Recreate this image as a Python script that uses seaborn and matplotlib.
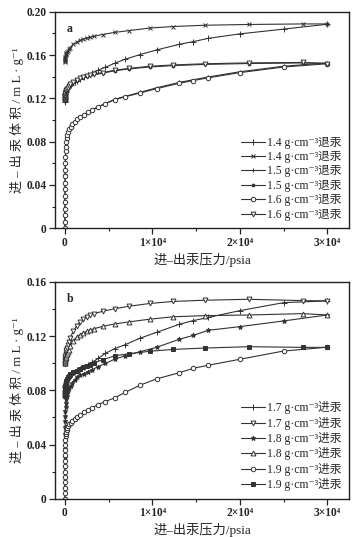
import matplotlib
matplotlib.use("Agg")
import matplotlib.pyplot as plt
import seaborn as sns
from matplotlib.ticker import MultipleLocator

# pressure grids (psia)
p_in = [0, 2, 4, 6, 9, 12, 16, 21, 27, 35, 45, 60, 80, 110, 150, 200, 270, 360, 480, 640,
        850, 1100, 1400, 1750, 2150, 2600, 3150, 3800, 4600, 5700, 6900, 8600, 10500, 13100,
        14700, 16400, 20000, 25000, 30000]
p_out = [0, 5, 12, 22, 35, 55, 80, 115, 160, 220, 300, 420, 570, 950, 1330, 1710, 2100, 2480,
         2860, 3350, 4300, 5700, 7300, 9700, 12400, 16000, 21000, 27200, 30000]
p_15a = [0, 10, 30, 80, 200, 480, 1100, 2150, 3800, 5700, 8600, 10500, 13100, 16400, 20000, 25000, 30000]
p_15b = [0, 22, 80, 220, 570, 1330, 2480, 4300, 5700, 7300, 9700, 12400, 16000, 21000, 27200, 30000]

# panel a
a_14_plus = [0.1167, 0.1175, 0.1183, 0.119, 0.1198, 0.1205, 0.1213, 0.122, 0.1228, 0.1236, 0.1244,
             0.1252, 0.126, 0.1268, 0.1277, 0.1286, 0.1295, 0.1305, 0.1315, 0.1326, 0.1338, 0.135,
             0.1363, 0.1378, 0.1395, 0.1415, 0.1437, 0.146, 0.1487, 0.1525, 0.1562, 0.1605, 0.1648,
             0.170, 0.1725, 0.1755, 0.1796, 0.184, 0.1885]
a_14_x = [0.1537, 0.1547, 0.1557, 0.1567, 0.1577, 0.1587, 0.1597, 0.1607, 0.1617, 0.1628, 0.1638,
          0.1652, 0.1668, 0.170, 0.172, 0.1735, 0.1748, 0.1757, 0.1765, 0.1774, 0.179, 0.181,
          0.1826, 0.185, 0.1864, 0.1876, 0.1883, 0.1888, 0.1888]
a_15_plus = [0.0, 0.024, 0.05, 0.071, 0.083, 0.0915, 0.0985, 0.1048, 0.1122, 0.1192, 0.1256,
             0.1298, 0.1348, 0.1398, 0.1446, 0.1497, 0.1528]
a_15_dot = [0.118, 0.1218, 0.1255, 0.1287, 0.1325, 0.1368, 0.1403, 0.1433, 0.1455, 0.1472, 0.149,
            0.1503, 0.1514, 0.1522, 0.1528, 0.1522]
a_16_o = [0.0, 0.006, 0.012, 0.018, 0.024, 0.030, 0.036, 0.042, 0.048, 0.054, 0.060, 0.066, 0.071,
          0.0755, 0.0795, 0.083, 0.086, 0.0888, 0.0915, 0.094, 0.0962, 0.0985, 0.1005, 0.1025,
          0.1048, 0.107, 0.1095, 0.1122, 0.115, 0.1188, 0.1215, 0.125, 0.129, 0.134, 0.1365,
          0.139, 0.1438, 0.149, 0.152]
a_16_v = [0.1185, 0.1198, 0.121, 0.1222, 0.1234, 0.1246, 0.1258, 0.127, 0.128, 0.129, 0.130,
          0.1315, 0.133, 0.1355, 0.1372, 0.1385, 0.1397, 0.1407, 0.1416, 0.1425, 0.1438, 0.146,
          0.1477, 0.1497, 0.1509, 0.152, 0.1528, 0.1532, 0.1522]

# panel b
b_17_plus = [0.075, 0.0758, 0.0766, 0.0774, 0.0782, 0.079, 0.0798, 0.0806, 0.0814, 0.0822, 0.083,
             0.0838, 0.0846, 0.0855, 0.0864, 0.0873, 0.0882, 0.0891, 0.09, 0.091, 0.0922, 0.0935,
             0.0948, 0.096, 0.0975, 0.099, 0.1008, 0.1035, 0.1072, 0.1108, 0.1137, 0.1185, 0.1228,
             0.1288, 0.1315, 0.1338, 0.1388, 0.1447, 0.146]
b_17_v = [0.0997, 0.1005, 0.1015, 0.1025, 0.1037, 0.105, 0.1065, 0.108, 0.1097, 0.1115, 0.1135,
          0.1158, 0.1185, 0.1235, 0.1275, 0.1303, 0.1325, 0.1342, 0.1355, 0.1366, 0.1383, 0.1402,
          0.142, 0.1441, 0.1456, 0.1465, 0.1472, 0.1462, 0.146]
b_18_dot = [0.0, 0.008, 0.016, 0.024, 0.031, 0.037, 0.043, 0.048, 0.053, 0.057, 0.061, 0.065, 0.068,
            0.071, 0.0735, 0.0757, 0.0778, 0.0797, 0.0815, 0.0832, 0.0855, 0.0878, 0.0895, 0.091,
            0.0922, 0.0937, 0.0953, 0.0975, 0.0998, 0.103, 0.1055, 0.1085, 0.1118, 0.1177, 0.1206,
            0.1243, 0.127, 0.1312, 0.1356]
b_18_tri = [0.100, 0.1005, 0.101, 0.1016, 0.1022, 0.103, 0.1038, 0.1047, 0.1057, 0.1068, 0.108,
            0.1098, 0.1125, 0.1165, 0.1192, 0.121, 0.1225, 0.1235, 0.1245, 0.1255, 0.1272, 0.129,
            0.1305, 0.1325, 0.1343, 0.1351, 0.1356, 0.1366, 0.1356]
b_19_o = [0.0, 0.004, 0.008, 0.012, 0.016, 0.02, 0.024, 0.028, 0.032, 0.036, 0.040, 0.0435, 0.046,
          0.048, 0.0495, 0.051, 0.0522, 0.0535, 0.0548, 0.056, 0.0575, 0.059, 0.0605, 0.062,
          0.0637, 0.0655, 0.0673, 0.0695, 0.0716, 0.0745, 0.0785, 0.0838, 0.0885, 0.093, 0.0963,
          0.0985, 0.1029, 0.109, 0.1118]
b_19_sq = [0.0755, 0.077, 0.0785, 0.080, 0.0815, 0.083, 0.0845, 0.086, 0.0872, 0.0884, 0.0895,
           0.0907, 0.0918, 0.0932, 0.0943, 0.0955, 0.097, 0.098, 0.099, 0.1003, 0.1025, 0.1055,
           0.107, 0.1088, 0.1102, 0.1112, 0.1122, 0.1117, 0.1117]

x_ticks = [0, 10000, 20000, 30000]
x_ticklabels = ["0", "1×10⁴", "2×10⁴", "3×10⁴"]
x_label = "进–出汞压力/psia"
y_label = "进 – 出 汞 体 积 / m L · g⁻¹"

c = "#333333"
W = "white"
# (x, y, label, marker, size, facecolor)
series_a = [
    (p_in, a_14_plus, "1.4 g·cm⁻³退汞", "+", 4.5, c),
    (p_out, a_14_x, "1.4 g·cm⁻³退汞", "x", 3.5, c),
    (p_15a, a_15_plus, "1.5 g·cm⁻³退汞", "+", 3.0, c),
    (p_15b, a_15_dot, "1.5 g·cm⁻³退汞", "o", 2.0, c),
    (p_in, a_16_o, "1.6 g·cm⁻³退汞", "o", 3.2, W),
    (p_out, a_16_v, "1.6 g·cm⁻³退汞", "v", 3.5, W),
]
series_b = [
    (p_in, b_17_plus, "1.7 g·cm⁻³进汞", "+", 4.5, c),
    (p_out, b_17_v, "1.7 g·cm⁻³进汞", "v", 3.5, W),
    (p_in, b_18_dot, "1.8 g·cm⁻³进汞", "*", 3.5, c),
    (p_out, b_18_tri, "1.8 g·cm⁻³进汞", "^", 3.5, W),
    (p_in, b_19_o, "1.9 g·cm⁻³进汞", "o", 3.2, W),
    (p_out, b_19_sq, "1.9 g·cm⁻³进汞", "s", 3.2, c),
]

sns.set_style("ticks")
fams = ["Liberation Serif", "DejaVu Serif", "Noto Sans CJK SC"]
plt.rcParams["font.family"] = fams
plt.rcParams["axes.unicode_minus"] = False

fig = plt.figure(figsize=(3.61, 5.37), dpi=100)
ax_a = fig.add_axes([0.152, 0.575, 0.815, 0.403])
ax_b = fig.add_axes([0.152, 0.0713, 0.815, 0.4037])


def draw(ax, series, ymax, tag):
    for x, y, lab, m, ms, fc in series:
        sns.lineplot(x=x, y=y, ax=ax, color=c, lw=0.8, marker=m, markersize=ms,
                     markerfacecolor=fc, markeredgecolor=c, markeredgewidth=0.7,
                     label=lab, estimator=None, sort=False)
    ax.set_xlim(-1150, 32500)
    ax.set_ylim(0, ymax)
    ax.set_xticks(x_ticks)
    ax.set_xticklabels(x_ticklabels)
    ax.xaxis.set_minor_locator(MultipleLocator(5000))
    ax.yaxis.set_major_locator(MultipleLocator(0.04))
    ax.yaxis.set_minor_locator(MultipleLocator(0.02))
    ax.yaxis.set_major_formatter(plt.FuncFormatter(lambda v, p: "0" if v == 0 else f"{v:.2f}"))
    ax.tick_params(which="major", length=4, width=0.9, labelsize=8.3, pad=2, color="#222")
    ax.tick_params(which="minor", length=2.5, width=0.8, color="#222")
    for t in ax.get_xticklabels() + ax.get_yticklabels():
        t.set_fontweight("bold")
    for s in ax.spines.values():
        s.set_linewidth(1.0)
        s.set_color("#222")
    ax.set_xlabel(x_label, fontsize=9.5, labelpad=3)
    ax.set_ylabel(y_label, fontsize=9.3, labelpad=2)
    ax.text(0.04, 0.95, tag, transform=ax.transAxes, fontsize=8.5, fontweight="bold",
            va="top", ha="left")
    ax.legend(loc="lower right", frameon=False, fontsize=8.4, handlelength=2.0,
              handletextpad=0.2, labelspacing=0.2, borderaxespad=0.25)


draw(ax_a, series_a, 0.20, "a")
draw(ax_b, series_b, 0.16, "b")

fig.savefig("out.png", dpi=100)
